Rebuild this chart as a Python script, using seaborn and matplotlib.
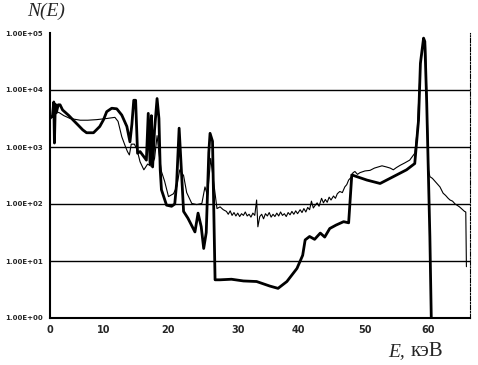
import numpy as np
import pandas as pd
import matplotlib
matplotlib.use("Agg")
import matplotlib.pyplot as plt
import seaborn as sns

# Thick curve: energy (keV) and log10 N(E)
thick_E = [0.0, 0.47, 0.71, 0.83, 1.0, 1.18, 1.54, 1.89, 2.36, 2.96, 3.55, 4.37, 5.32, 6.15, 6.86,
           8.16, 9.34, 10.04, 10.53, 11.31, 12.09, 12.87, 13.66, 14.14, 14.44, 14.73, 15.02,
           15.32, 15.71, 16.69, 16.98, 17.27, 17.47, 17.66, 17.96, 18.35, 18.64, 18.84, 19.03,
           19.82, 20.55, 21.0, 21.27, 21.62, 21.89, 22.25, 22.87, 23.86, 24.30, 24.75, 25.10,
           25.46, 25.82, 26.0, 26.35, 26.71, 27.42, 29.03, 30.86, 33.07, 35.29, 36.66, 38.14,
           39.83, 40.70, 41.07, 41.73, 42.48, 43.33, 43.99, 44.74, 45.68, 46.81, 47.56, 48.03,
           48.78, 50.3, 52.4, 54.5, 56.6, 57.9, 58.5, 58.8, 59.3, 59.5, 59.8, 60.3, 60.6]
thick_lg = [3.50, 3.55, 3.79, 3.07, 3.75, 3.60, 3.74, 3.74, 3.65, 3.60, 3.55, 3.47, 3.38, 3.30,
            3.25, 3.25, 3.36, 3.48, 3.62, 3.68, 3.67, 3.56, 3.36, 3.09, 3.40, 3.82, 3.82, 2.89,
            2.92, 2.77, 3.59, 2.70, 3.55, 2.65, 3.30, 3.85, 3.50, 2.60, 2.25, 1.98, 1.96, 2.00,
            2.37, 3.33, 2.71, 1.87, 1.75, 1.51, 1.84, 1.60, 1.22, 1.50, 2.90, 3.24, 3.10, 0.67,
            0.67, 0.68, 0.65, 0.64, 0.56, 0.52, 0.64, 0.87, 1.10, 1.37, 1.43, 1.38, 1.49, 1.42,
            1.57, 1.63, 1.69, 1.67, 2.51, 2.48, 2.42, 2.36, 2.48, 2.60, 2.71, 3.47, 4.47, 4.91,
            4.85, 3.77, 1.43, -0.50]

# Thin curve
thin_E = [0.0, 0.59, 1.18, 1.77, 2.60, 3.78, 5.67, 7.09, 8.75, 10.53, 11.8, 12.29, 12.87, 13.46,
          13.75, 14.05, 14.34, 14.83, 15.22, 15.71, 16.30, 16.88, 17.47, 17.96, 18.35, 18.64,
          19.03, 19.52, 20.11, 20.82, 21.27, 21.71, 22.25, 22.69, 23.41, 24.12, 24.84, 25.28,
          25.64, 26.09, 26.98, 27.42, 27.87,
          28.32, 28.58, 28.85, 29.12, 29.39, 29.66, 29.92, 30.23, 30.54, 30.86, 31.17, 31.49,
          31.81, 32.12, 32.44, 32.76, 33.07, 33.28, 33.60, 33.92, 34.23, 34.55, 34.87, 35.18,
          35.50, 35.82, 36.13, 36.45, 36.77, 37.08, 37.40, 37.72, 38.03, 38.35, 38.67, 38.98,
          39.30, 39.62, 39.93, 40.32, 40.60, 40.88, 41.17, 41.45, 41.73, 42.01, 42.29, 42.58,
          42.86, 43.14, 43.52, 43.80, 44.08, 44.36, 44.65, 44.93, 45.30, 45.59, 45.87, 46.24,
          46.62, 46.99, 47.28, 47.56, 47.94, 48.22, 48.50, 48.88, 49.25, 50.0,
          50.8, 51.5, 52.1, 52.7, 53.4, 54.0, 54.5, 55.0, 55.6, 56.3, 57.1, 57.9, 58.3, 58.8,
          59.3, 59.6, 59.9, 60.1, 60.3, 60.7, 61.1, 61.5, 61.9, 62.4, 62.8, 63.2, 63.5, 63.9,
          64.3, 64.6, 65.0, 65.3, 65.6, 65.8, 66.0, 66.1]
thin_lg = [3.50, 3.55, 3.62, 3.60, 3.55, 3.50, 3.47, 3.47, 3.48, 3.50, 3.52, 3.45, 3.18, 3.00,
           2.92, 2.86, 3.05, 3.05, 2.96, 2.74, 2.60, 2.70, 2.66, 2.80, 3.20, 2.90, 2.57, 2.40,
           2.13, 2.18, 2.30, 2.60, 2.50, 2.20, 2.01, 1.99, 2.01, 2.30, 2.15, 2.80, 1.92, 1.95,
           1.90,
           1.87, 1.82, 1.88, 1.80, 1.85, 1.79, 1.84, 1.78, 1.83, 1.80, 1.86, 1.79, 1.82, 1.77,
           1.84, 1.80, 2.07, 1.60, 1.78, 1.82, 1.74, 1.83, 1.79, 1.85, 1.77, 1.82, 1.78, 1.84,
           1.79, 1.86, 1.80, 1.83, 1.78, 1.85, 1.81, 1.87, 1.82, 1.88, 1.83, 1.90, 1.85, 1.92,
           1.86, 1.94, 1.90, 2.05, 1.93, 1.98, 2.02, 1.96, 2.10, 2.02, 2.08, 2.03, 2.12, 2.07,
           2.14, 2.10, 2.18, 2.22, 2.20, 2.30, 2.34, 2.42, 2.47, 2.55, 2.57, 2.52, 2.55, 2.58,
           2.59, 2.63, 2.65, 2.67, 2.65, 2.63, 2.60, 2.64, 2.68, 2.72, 2.77, 2.89, 3.30, 4.45,
           4.88, 4.80, 3.50, 2.60, 2.48, 2.45, 2.40, 2.35, 2.30, 2.19, 2.15, 2.10, 2.07, 2.05,
           2.00, 1.98, 1.95, 1.92, 1.89, 1.87, 1.86, 0.90]

y_ticks = [1, 10, 100, 1000, 10000, 100000]
y_labels = ["1.00E+00", "1.00E+01", "1.00E+02", "1.00E+03", "1.00E+04", "1.00E+05"]
x_ticks = [0, 10, 20, 30, 40, 50, 60]

# The original energy axis is slightly non-uniform: relative spacing of the ticks
scale_vals = [-10, 0, 10, 20, 30, 40, 50, 60, 80]
scale_pos = [-53.3, 0, 53.3, 117.7, 188.3, 248.0, 315.0, 378.0, 504.0]


def fwd(x):
    return np.interp(x, scale_vals, scale_pos)


def inv(p):
    return np.interp(p, scale_pos, scale_vals)


sns.set_style("white")
plt.rcParams['font.family'] = ['DejaVu Sans']

df_thick = pd.DataFrame({"E": thick_E, "N": 10 ** np.array(thick_lg)})
df_thin = pd.DataFrame({"E": thin_E, "N": 10 ** np.array(thin_lg)})

fig = plt.figure(figsize=(4.78, 3.65), dpi=100)
ax = fig.add_axes([50 / 478, 1 - 318 / 365, 420 / 478, 285 / 365])
ax.set_xscale("function", functions=(fwd, inv))

for yv in y_ticks[1:-1]:
    ax.axhline(yv, color="black", lw=1.0, zorder=1)

sns.lineplot(data=df_thin, x="E", y="N", ax=ax, color="black", lw=0.8,
             estimator=None, sort=False, zorder=3)
sns.lineplot(data=df_thick, x="E", y="N", ax=ax, color="black", lw=2.0,
             estimator=None, sort=False, zorder=4)

ax.set_yscale("log")
ax.set_ylim(1, 1e5)
ax.set_xlim(0, 66.67)
ax.set_yticks(y_ticks)
ax.set_yticklabels(y_labels, fontsize=5, fontweight="bold")
ax.minorticks_off()
ax.set_xticks(x_ticks)
ax.set_xticklabels([str(v) for v in x_ticks], fontsize=7, fontweight="bold")
ax.tick_params(axis="both", direction="inout", length=4, width=1, color="black", pad=3)
ax.set_xlabel("")
ax.set_ylabel("")

for s in ["left", "bottom"]:
    ax.spines[s].set_color("black")
    ax.spines[s].set_linewidth(1.5)
ax.spines["top"].set_visible(False)
ax.spines["right"].set_color("black")
ax.spines["right"].set_linewidth(0.8)
ax.spines["right"].set_linestyle((0, (4, 1.5, 1, 1.5)))

fig.text(46 / 478, 1 - 11 / 365, "N(E)", ha="center", va="center",
         family="Liberation Serif", style="italic", fontsize=14)
fig.text(388 / 478, 1 - 352 / 365, "E,", ha="left", va="center",
         family="Liberation Serif", style="italic", fontsize=14)
fig.text(411 / 478, 1 - 352 / 365, "кэВ", ha="left", va="center",
         family="Liberation Serif", fontsize=15)

fig.savefig("out.png", dpi=100)
